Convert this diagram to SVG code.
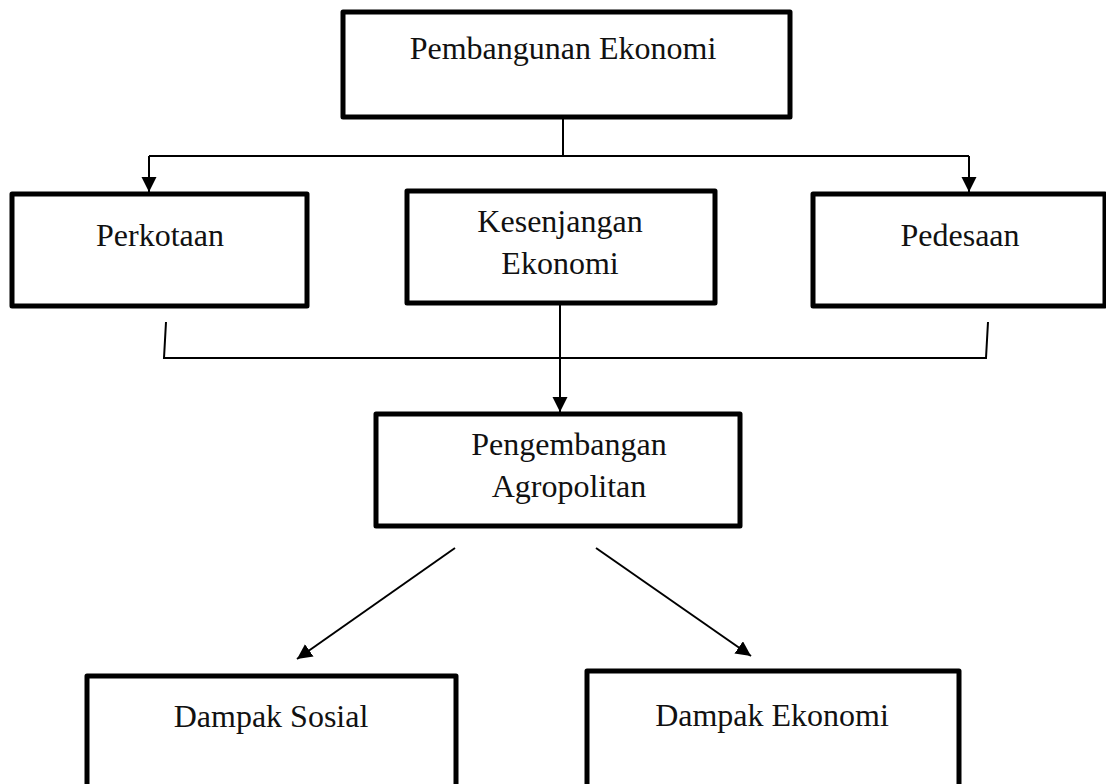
<svg xmlns="http://www.w3.org/2000/svg" width="1106" height="784" viewBox="0 0 1106 784">
<style>
.box{fill:#fff;stroke:#000;stroke-width:5;stroke-linejoin:round}
.lbl{font-family:"Liberation Serif","Times New Roman",serif;font-size:32px;fill:#111;text-anchor:middle}
.ln{fill:none;stroke:#000;stroke-width:2}
</style>
<defs>
<marker id="ah" markerUnits="userSpaceOnUse" markerWidth="16" markerHeight="16" refX="15" refY="7.5" orient="auto" viewBox="0 0 16 16">
<path d="M0,0 L15,7.5 L0,15 z" fill="#000"/>
</marker>
</defs>
<rect width="1106" height="784" fill="#fff"/>
<g id="connectors">
<path class="ln" d="M563,117 V157"/>
<path class="ln" d="M149,156 H969"/>
<path class="ln" d="M149,156 V192" marker-end="url(#ah)"/>
<path class="ln" d="M969,156 V192" marker-end="url(#ah)"/>
<path class="ln" d="M166,322 L164,358 H986 L988,322"/>
<path class="ln" d="M560,305 V412" marker-end="url(#ah)"/>
<path class="ln" d="M455,548 L297,659" marker-end="url(#ah)"/>
<path class="ln" d="M596,548 L751,656" marker-end="url(#ah)"/>
</g>
<g id="n-pembangunan">
<rect class="box" x="343" y="12" width="447" height="105"/>
<text class="lbl" x="563" y="59">Pembangunan Ekonomi</text>
</g>
<g id="n-perkotaan">
<rect class="box" x="12" y="194" width="295" height="112"/>
<text class="lbl" x="160" y="246">Perkotaan</text>
</g>
<g id="n-kesenjangan">
<rect class="box" x="407" y="191" width="308" height="112"/>
<text class="lbl" x="560" y="232">Kesenjangan</text>
<text class="lbl" x="560" y="274">Ekonomi</text>
</g>
<g id="n-pedesaan">
<rect class="box" x="813" y="194" width="292" height="112"/>
<text class="lbl" x="960" y="246">Pedesaan</text>
</g>
<g id="n-pengembangan">
<rect class="box" x="376" y="414" width="364" height="112"/>
<text class="lbl" x="569" y="455">Pengembangan</text>
<text class="lbl" x="569" y="497">Agropolitan</text>
</g>
<g id="n-sosial">
<rect class="box" x="87" y="676" width="369" height="130"/>
<text class="lbl" x="271" y="727">Dampak Sosial</text>
</g>
<g id="n-ekonomi">
<rect class="box" x="587" y="671" width="372" height="135"/>
<text class="lbl" x="772" y="726">Dampak Ekonomi</text>
</g>
</svg>
